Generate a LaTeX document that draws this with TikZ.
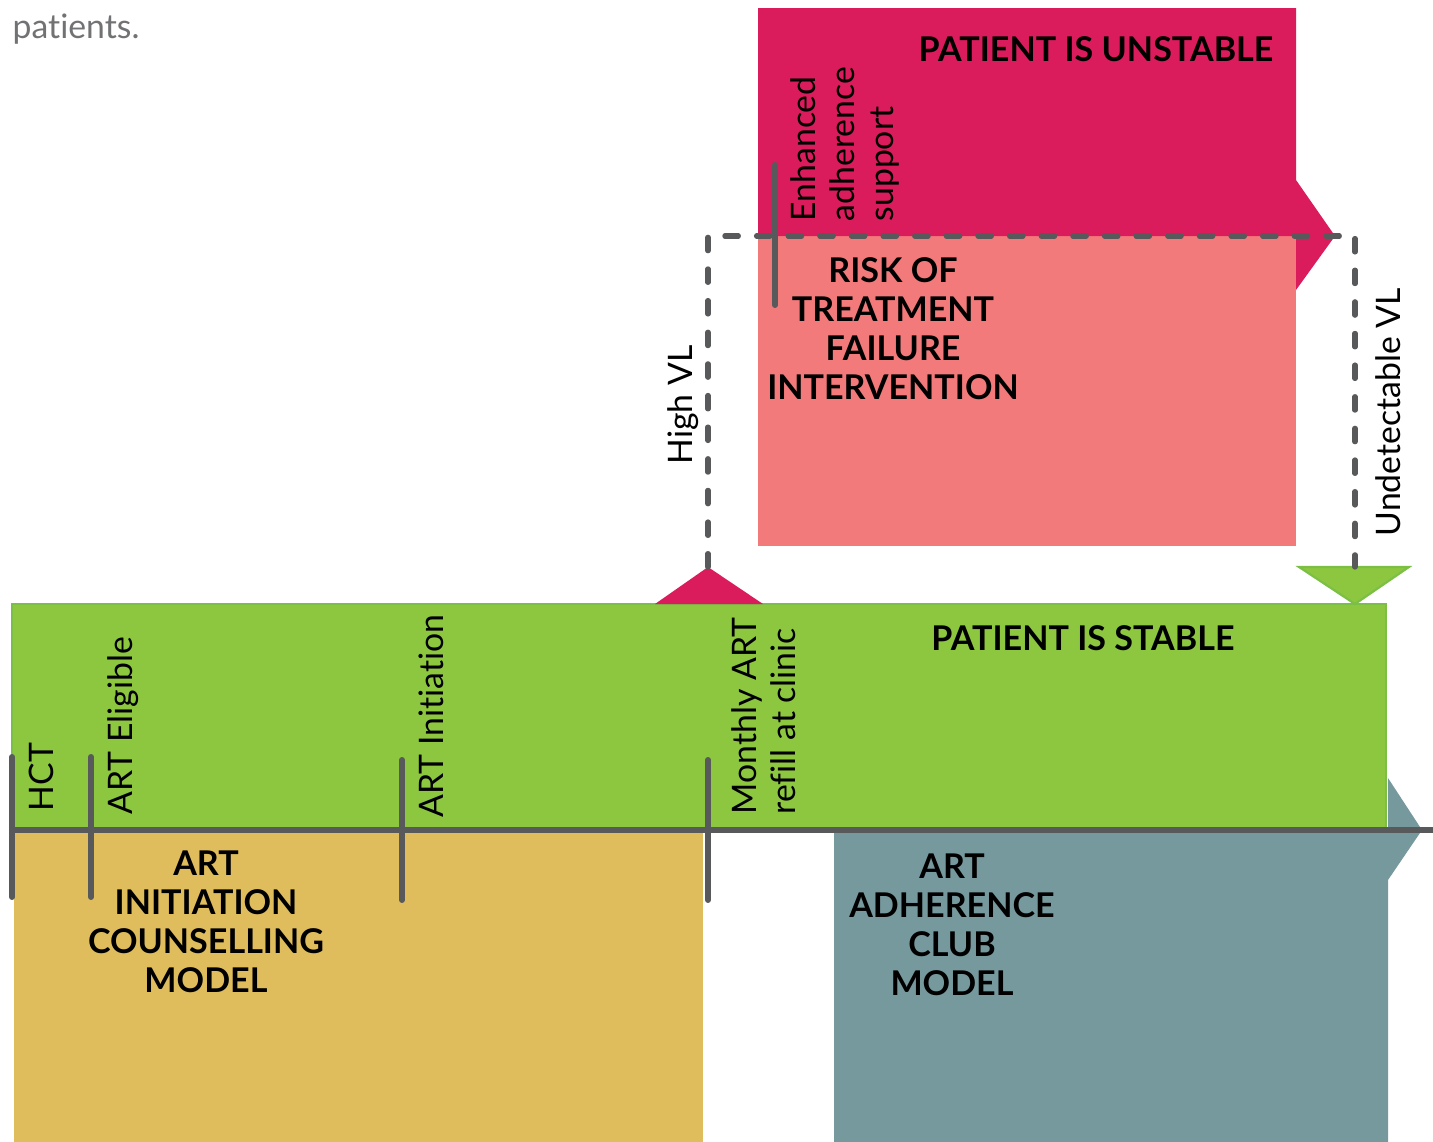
\documentclass[tikz,border=0pt]{standalone}
\usepackage{fontspec}
\setmainfont{Lato}[Ligatures=NoCommon]

\definecolor{unstableRed}{HTML}{DA1C5C}
\definecolor{riskPink}{HTML}{F37A7B}
\definecolor{stableGreen}{HTML}{8DC63F}
\definecolor{stableEdge}{HTML}{7BBF45}
\definecolor{counselYellow}{HTML}{DFBD5D}
\definecolor{clubTeal}{HTML}{76999E}
\definecolor{axisGray}{HTML}{58595B}

\begin{document}
\begin{tikzpicture}[x=0.1mm,y=-0.1mm,
    stage/.style={font=\bfseries\fontsize{9.7}{11.1}\selectfont, align=center, inner sep=0},
    event/.style={rotate=90, anchor=north west, font=\fontsize{9.6}{11.1}\selectfont,
      align=left, inner sep=0},
    timetick/.style={draw=axisGray, line width=1.7pt, line cap=round},
    vlpath/.style={draw=axisGray, line width=1.5pt, line cap=round,
      dash pattern=on 3.8pt off 5.2pt}]

    \useasboundingbox (0,0) rectangle (1433,1142);

    \node[anchor=base west, inner sep=0, text=axisGray!85,
    font=\fontsize{9.6}{12}\selectfont] (intro) at (12,39) {patients.};

    % club model box with arrow head behind the stable bar
    \fill[clubTeal] (834,830) -- (1388,830) -- (1388,778) -- (1422,830)
    -- (1388,880) -- (1388,1142) -- (834,1142) -- cycle;
    \fill[counselYellow] (14,830) rectangle (703,1142);

    % unstable and risk boxes
    \fill[riskPink] (758,236) rectangle (1296,546);
    \fill[unstableRed] (758,8) -- (1296,8) -- (1296,180) -- (1335,236)
    -- (1296,290) -- (1296,236) -- (758,236) -- cycle;

    % stable bar and the two turn marks
    \filldraw[fill=stableGreen, draw=stableEdge, line width=0.6pt]
    (12,604) rectangle (1386,828);
    \fill[unstableRed] (655,604) -- (708,567) -- (763,604) -- cycle;
    \filldraw[fill=stableGreen, draw=stableEdge, line width=0.6pt]
    (1299,567) -- (1409,567) -- (1355,604) -- cycle;

    \coordinate (highTip) at (708,567);
    \coordinate (highTurn) at (708,236);
    \coordinate (undTurn) at (1355,236);
    \coordinate (undTip) at (1355,567);

    % time line
    \draw[axisGray, line width=1.7pt] (12,830) -- (1433,830);
    \draw[timetick] (12,757) -- (12,897);
    \draw[timetick] (91,757) -- (91,897);
    \draw[timetick] (402,760) -- (402,900);
    \draw[timetick] (708,760) -- (708,900);
    \draw[timetick] (775,165) -- (775,305);

    \draw[vlpath] (highTip) -- (highTurn) -- (undTurn) -- (undTip);

    \node[event] (hct) at (28,812) {HCT};
    \node[event] (eligible) at (107,815) {ART Eligible};
    \node[event] (initiation) at (418,818) {ART Initiation};
    \node[event] (refill) at (731,815) {Monthly ART\\refill at clinic};
    \node[event] (enhanced) at (790,222) {Enhanced\\adherence\\support};
    \node[event] (highVL) at (667,465) {High VL};
    \node[event] (undetectVL) at (1375,537) {Undetectable VL};

    \node[stage] (unstable) at (1096,49) {PATIENT IS UNSTABLE};
    \node[stage] (stable) at (1083,638) {PATIENT IS STABLE};
    \node[stage] (risk) at (893,329) {RISK OF\\TREATMENT\\FAILURE\\INTERVENTION};
    \node[stage] (counsel) at (206,922) {ART\\INITIATION\\COUNSELLING\\MODEL};
    \node[stage] (club) at (952,925) {ART\\ADHERENCE\\CLUB\\MODEL};
  \end{tikzpicture}
\end{document}
